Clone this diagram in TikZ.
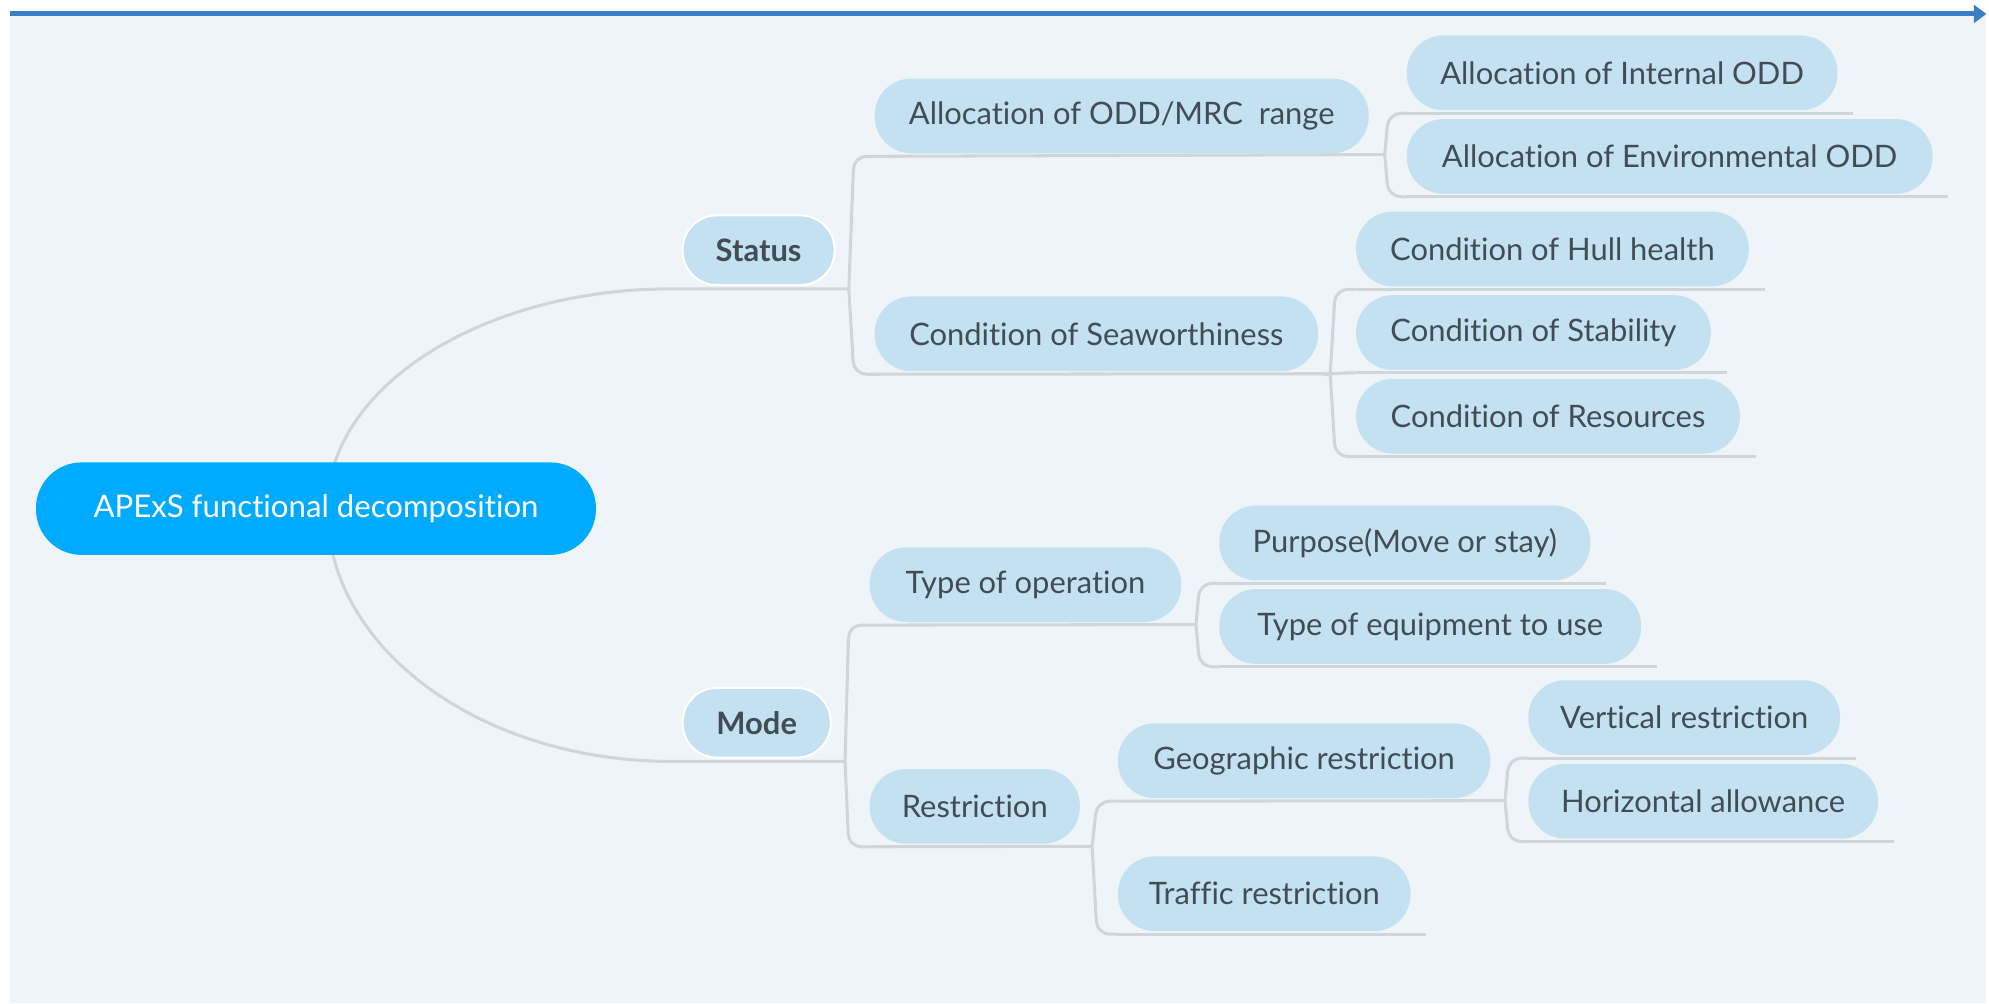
\documentclass[tikz,border=0pt]{standalone}
\usepackage{fontspec}
\setmainfont{Lato}[Ligatures=NoCommon]
\usetikzlibrary{arrows.meta}
\definecolor{bgc}{HTML}{EEF4F7}
\definecolor{topline}{HTML}{3A7FC4}
\definecolor{nodefill}{HTML}{C3E1F1}
\definecolor{rootfill}{HTML}{00AAFF}
\definecolor{txt}{HTML}{424C54}
\definecolor{conn}{HTML}{D0D5D9}
\pgfdeclarelayer{bg}
\pgfsetlayers{bg,main}
\begin{document}
\begin{tikzpicture}[x=0.5pt,y=-0.5pt,
  topic/.style={fill=nodefill, text=txt, rounded corners=14.5pt, minimum height=29.5pt,
    inner sep=0pt, anchor=west, font=\fontsize{12.2}{14}\selectfont},
  main/.style={topic, draw=white, line width=0.8pt, rounded corners=13.5pt,
    minimum height=27.5pt, font=\fontsize{12.2}{14}\selectfont\bfseries},
  rootnode/.style={fill=rootfill, text=white, rounded corners=18pt, minimum height=36.5pt,
    inner sep=0pt, anchor=west, font=\fontsize{12.3}{14}\selectfont},
  link/.style={draw=conn, line width=1.2pt},
  brk/.style={link, rounded corners=5pt}
]
% nodes
\node[rootnode, minimum width=221pt] (root) at (28,401.5) {APExS functional decomposition};
\node[main, minimum width=60pt] (status) at (538,197.5) {Status};
\node[main, minimum width=58.5pt] (mode) at (538,570.5) {Mode};

\node[topic, minimum width=195pt] (a1) at (690,91.5) {Allocation of ODD/MRC\ \ range};
\node[topic, minimum width=175pt] (a2) at (690,263.5) {Condition of Seaworthiness};
\node[topic, minimum width=170pt] (b1) at (1110,57.5) {Allocation of Internal ODD};
\node[topic, minimum width=207.5pt] (b2) at (1110,123.5) {Allocation of Environmental ODD};
\node[topic, minimum width=155pt] (c1) at (1070,196.5) {Condition of Hull health};
\node[topic, minimum width=140pt] (c2) at (1070,262.5) {Condition of Stability};
\node[topic, minimum width=151.5pt] (c3) at (1070,328.5) {Condition of Resources};

\node[topic, minimum width=123pt] (m1) at (686,461.5) {Type of operation};
\node[topic, minimum width=83pt] (m2) at (686,636.5) {Restriction};
\node[topic, minimum width=146.5pt] (d1) at (962,428.5) {Purpose(Move or stay)};
\node[topic, minimum width=166.5pt] (d2) at (962,494.5) {Type of equipment to use};
\node[topic, minimum width=147pt] (e1) at (882,600.5) {Geographic restriction};
\node[topic, minimum width=115.5pt] (e2) at (882,705.5) {Traffic restriction};
\node[topic, minimum width=123pt] (f1) at (1206,566.5) {Vertical restriction};
\node[topic, minimum width=138pt] (f2) at (1206,632.5) {Horizontal allowance};

% junctions
\coordinate (rc) at ([xshift=4.5pt]root.center);
\coordinate (s0) at (530,228);
\coordinate (jS) at (670,228);
\coordinate (m0) at (530,601);
\coordinate (jM) at (667,601);
\coordinate (ja1) at (1093,122);
\coordinate (ja2) at (1050,295);
\coordinate (jm1) at (944,493);
\coordinate (jm2) at (862,668);
\coordinate (je1) at (1188,632);

\begin{pgfonlayer}{bg}
% canvas
\fill[white] (0,0) rectangle (1568,792);
\fill[bgc] (8,13) rectangle (1568,792);
\draw[topline, line width=2pt, -{Triangle[length=5pt,width=7pt]}] (8,11) -- (1568,11);
% root curves
\draw[link] (rc) .. controls (258,306) and (380,228) .. (s0) -- (jS);
\draw[link] (rc) .. controls (258,512) and (380,601) .. (m0) -- (jM);
% status brackets
\draw[brk] (jS) -- ([xshift=-8pt,yshift=-1pt]a1.south west) -- ([yshift=-1pt]a1.south west);
\draw[brk] (jS) -- ([xshift=-8pt,yshift=-1pt]a2.south west) -- ([yshift=-1pt]a2.south west);
\draw[link] ([yshift=-1pt]a1.south west) -- (ja1);
\draw[link] ([yshift=-1pt]a2.south west) -- (ja2);
\foreach \n in {b1,b2}{
  \draw[brk] (ja1) -- ([xshift=-7pt,yshift=-1pt]\n.south west) -- ([yshift=-1pt]\n.south west);}
\foreach \n in {c1,c2,c3}{
  \draw[brk] (ja2) -- ([xshift=-8pt,yshift=-1pt]\n.south west) -- ([yshift=-1pt]\n.south west);}
% mode brackets
\draw[brk] (jM) -- ([xshift=-8pt,yshift=-1pt]m1.south west) -- ([yshift=-1pt]m1.south west);
\draw[brk] (jM) -- ([xshift=-8pt,yshift=-1pt]m2.south west) -- ([yshift=-1pt]m2.south west);
\draw[link] ([yshift=-1pt]m1.south west) -- (jm1);
\draw[link] ([yshift=-1pt]m2.south west) -- (jm2);
\foreach \n in {d1,d2}{
  \draw[brk] (jm1) -- ([xshift=-7.5pt,yshift=-1pt]\n.south west) -- ([yshift=-1pt]\n.south west);}
\foreach \n in {e1,e2}{
  \draw[brk] (jm2) -- ([xshift=-8pt,yshift=-1pt]\n.south west) -- ([yshift=-1pt]\n.south west);}
\draw[link] ([yshift=-1pt]e1.south west) -- (je1);
\foreach \n in {f1,f2}{
  \draw[brk] (je1) -- ([xshift=-7.5pt,yshift=-1pt]\n.south west) -- ([yshift=-1pt]\n.south west);}
% leaf underlines
\foreach \n in {b1,b2,c1,c2,c3,d1,d2,e2,f1,f2}{
  \draw[link] ([yshift=-1pt]\n.south west) -- ([xshift=6pt,yshift=-1pt]\n.south east);}
\end{pgfonlayer}
\useasboundingbox (0,0) rectangle (1568,792);
\end{tikzpicture}
\end{document}
